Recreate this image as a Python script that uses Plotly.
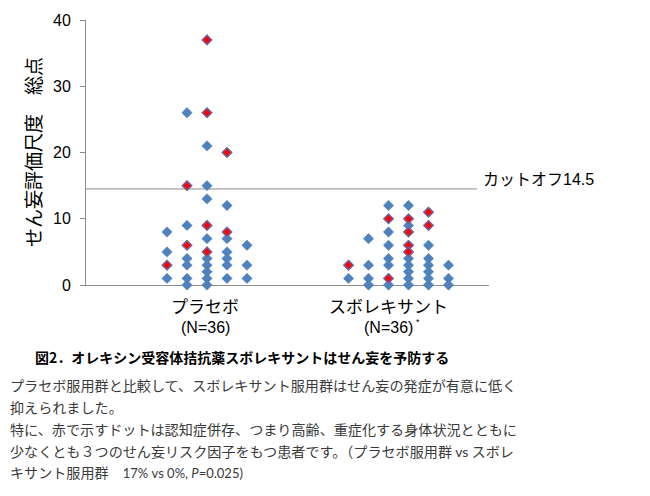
import plotly.graph_objects as go

# ---- data (values per dot column) ----
categories = ["プラセボ", "スボレキサント"]
n_labels = ["(N=36)", "(N=36)"]
n_marks = ["", "*"]

placebo_cols = [
    [8, 5, 3, 1],
    [26, 15, 9, 6, 4, 3, 1, 0],
    [37, 26, 21, 15, 13, 9, 7, 5, 4, 3, 2, 1, 0],
    [20, 12, 8, 7, 5, 4, 3, 1],
    [6, 3, 1],
]
placebo_red = [
    [3],
    [15, 6],
    [37, 26, 9, 5],
    [20, 8],
    [],
]
suvo_cols = [
    [3, 1],
    [7, 3, 1, 0],
    [12, 10, 8, 6, 4, 3, 1, 0],
    [12, 10, 9, 8, 6, 5, 4, 3, 2, 1, 0],
    [11, 9, 6, 4, 3, 2, 1, 0],
    [3, 1, 0],
]
suvo_red = [
    [3],
    [],
    [10, 1],
    [10, 8, 6, 5],
    [11, 9],
    [],
]
cutoff = 14.5
cutoff_label = "カットオフ14.5"
y_title = "せん妄評価尺度　総点"
y_ticks = [0, 10, 20, 30, 40]

caption = "図2．オレキシン受容体拮抗薬スボレキサントはせん妄を予防する"
body_lines = [
    "プラセボ服用群と比較して、スボレキサント服用群はせん妄の発症が有意に低く",
    "抑えられました。",
    "特に、赤で示すドットは認知症併存、つまり高齢、重症化する身体状況とともに",
    "少なくとも３つのせん妄リスク因子をもつ患者です。（プラセボ服用群 <span style='font-family:Lato'>vs</span> スボレ",
    "キサント服用群　<span style='font-family:Lato;font-size:13px'>17% vs 0%, <i>P</i>=0.025)</span>",
]

# ---- layout helpers ----
W, H = 650, 496
L, R, T, B = 86, 161, 16, 211
pw, ph = W - L - R, H - T - B
col_step = 0.1044


def px_x(p):
    return (p - L) / pw


def px_y(p):
    return (T + ph - p) / ph


blue_x, blue_y, red_x, red_y = [], [], [], []
for center, cols, reds in [(1, placebo_cols, placebo_red), (2, suvo_cols, suvo_red)]:
    n = len(cols)
    for i, (vals, rv) in enumerate(zip(cols, reds)):
        x = center + (i - (n - 1) / 2) * col_step
        for v in vals:
            blue_x.append(x)
            blue_y.append(v)
        for v in rv:
            red_x.append(x)
            red_y.append(v)

JP = "Noto Sans CJK JP"
LAT = "Liberation Sans, Noto Sans CJK JP"

fig = go.Figure()
fig.add_trace(go.Scatter(x=blue_x, y=blue_y, mode="markers", cliponaxis=False,
                         marker=dict(symbol="diamond", size=8, color="#4F81BD",
                                     line=dict(width=0.5, color="#4F81BD")),
                         showlegend=False, hoverinfo="skip"))
fig.add_trace(go.Scatter(x=red_x, y=red_y, mode="markers", cliponaxis=False,
                         marker=dict(symbol="diamond", size=7, color="#FF0000",
                                     line=dict(width=1.5, color="#7A5E96")),
                         showlegend=False, hoverinfo="skip"))

fig.add_shape(type="line", xref="paper", yref="y", x0=0, x1=px_x(477), y0=cutoff, y1=cutoff,
              line=dict(color="#8C8C8C", width=1), layer="below")

ann = []
ann.append(dict(xref="paper", yref="y", x=px_x(481), y=cutoff, yshift=9, xanchor="left",
                yanchor="middle", text=cutoff_label, showarrow=False,
                font=dict(family=LAT, size=16, color="#000")))
ann.append(dict(xref="paper", yref="paper", x=px_x(32), y=px_y(150), textangle=-90,
                xanchor="center", yanchor="middle",
                text=y_title, showarrow=False, font=dict(family=JP, size=19, color="#000")))
label_x = [1 - 0.01, 2 - 0.05]
for cx, c, nl, mk in zip(label_x, categories, n_labels, n_marks):
    ann.append(dict(xref="x", yref="paper", x=cx, y=px_y(306), text=c, showarrow=False,
                    xanchor="center", yanchor="middle", font=dict(family=JP, size=17, color="#000")))
    ann.append(dict(xref="x", yref="paper", x=cx, y=px_y(328), text=nl, showarrow=False,
                    xanchor="center", yanchor="middle", font=dict(family=LAT, size=16, color="#000")))
    if mk:
        ann.append(dict(xref="x", yref="paper", x=cx, xshift=25, y=px_y(323), text=mk,
                        showarrow=False, xanchor="left", yanchor="middle",
                        font=dict(family=LAT, size=9, color="#000")))
ann.append(dict(xref="paper", yref="paper", x=px_x(242), y=px_y(358), text="<b>" + caption + "</b>",
                showarrow=False, xanchor="center", yanchor="middle",
                font=dict(family=JP, size=14, color="#000")))
for k, line in enumerate(body_lines):
    ann.append(dict(xref="paper", yref="paper", x=px_x(8), y=px_y(387 + 22 * k), text=line,
                    showarrow=False, xanchor="left", yanchor="middle", align="left",
                    font=dict(family=JP, size=14.1, color="#3A3A3A")))

fig.update_layout(
    width=W, height=H, margin=dict(l=L, r=R, t=T, b=B, pad=0),
    paper_bgcolor="white", plot_bgcolor="white",
    annotations=ann,
    xaxis=dict(range=[1 - (207 - L) / 191.5, 1 + (L + pw - 207) / 191.5], showgrid=False,
               zeroline=False, showticklabels=False, ticks="", showline=True,
               linecolor="#8C8C8C", linewidth=1, layer="below traces", fixedrange=True),
    yaxis=dict(range=[0, 40], tickvals=y_ticks, showgrid=False, zeroline=False,
               showline=True, linecolor="#8C8C8C", linewidth=1, ticks="outside",
               ticklen=5, tickcolor="#8C8C8C", ticklabelstandoff=6,
               tickfont=dict(family=LAT, size=16, color="#000"), layer="below traces"),
)

fig.write_html("out.html")
